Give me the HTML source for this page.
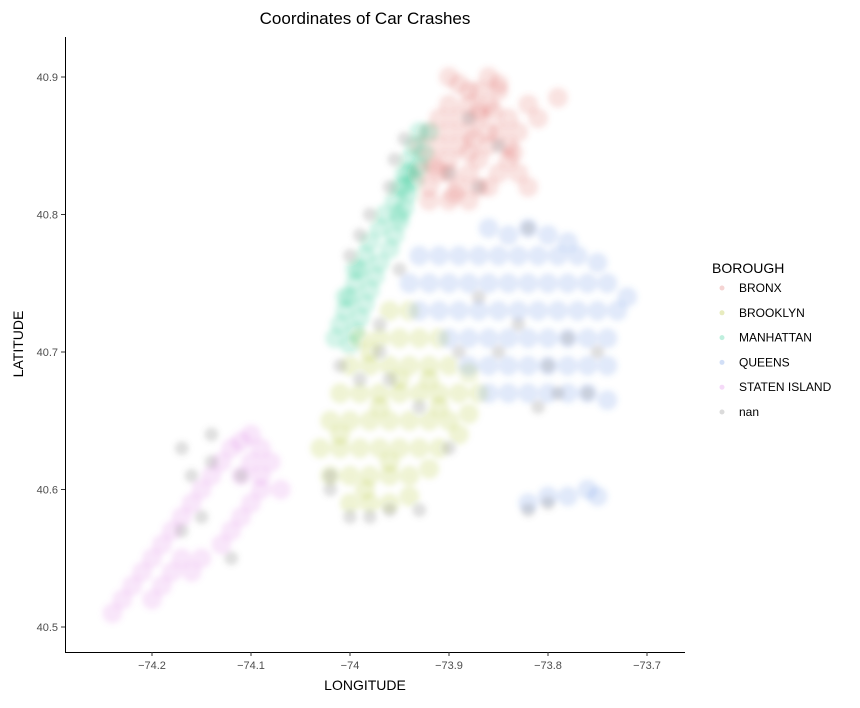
<!DOCTYPE html>
<html><head><meta charset="utf-8"><style>
body{margin:0;background:#fff;font-family:"Liberation Sans","DejaVu Sans",sans-serif}
</style></head><body>
<svg id="chart" width="860" height="703" xmlns="http://www.w3.org/2000/svg" font-family="Liberation Sans, DejaVu Sans, sans-serif">
<defs><filter id="bl" x="-10%" y="-10%" width="120%" height="120%"><feGaussianBlur stdDeviation="3"/></filter></defs>
<rect width="860" height="703" fill="#fff"/>
<g id="pts" filter="url(#bl)"></g>
<line x1="65.5" y1="37" x2="65.5" y2="652" stroke="#000" stroke-width="1"/>
<line x1="65" y1="652.5" x2="685" y2="652.5" stroke="#000" stroke-width="1"/>
<g id="axes"></g>
<text x="365" y="24" font-size="17" text-anchor="middle">Coordinates of Car Crashes</text>
<text x="365" y="690" font-size="14" text-anchor="middle">LONGITUDE</text>
<text transform="translate(23,344) rotate(-90)" font-size="14" text-anchor="middle">LATITUDE</text>
<g id="legend">
<text x="712" y="273" font-size="14">BOROUGH</text>
</g>
</svg>
<script>
const categories=["BRONX","BROOKLYN","MANHATTAN","QUEENS","STATEN ISLAND","nan"];
const colors=["#D9534F","#A3B500","#00BF7D","#4A7FE0","#D86BE3","#707070"];
const xTicks=[-74.2,-74.1,-74.0,-73.9,-73.8,-73.7];
const xTickLabels=["\u221274.2","\u221274.1","\u221274","\u221273.9","\u221273.8","\u221273.7"];
const yTicks=[40.5,40.6,40.7,40.8,40.9];
const yTickLabels=["40.5","40.6","40.7","40.8","40.9"];
const bronx=[[-73.92,40.82],[-73.91,40.83],[-73.90,40.84],[-73.89,40.85],[-73.88,40.86],[-73.87,40.87],[-73.86,40.88],[-73.85,40.89],[-73.86,40.90],[-73.88,40.89],[-73.90,40.88],[-73.91,40.87],[-73.92,40.86],[-73.93,40.85],[-73.92,40.84],[-73.93,40.83],[-73.92,40.81],[-73.90,40.81],[-73.89,40.82],[-73.88,40.83],[-73.87,40.84],[-73.86,40.85],[-73.85,40.86],[-73.84,40.87],[-73.83,40.86],[-73.84,40.84],[-73.85,40.83],[-73.86,40.82],[-73.87,40.82],[-73.88,40.81],[-73.90,40.86],[-73.89,40.87],[-73.88,40.88],[-73.87,40.89],[-73.89,40.895],[-73.90,40.90],[-73.91,40.85],[-73.90,40.83],[-73.88,40.845],[-73.86,40.86],[-73.84,40.85],[-73.83,40.83],[-73.82,40.82],[-73.85,40.895],[-73.87,40.875],[-73.915,40.835],[-73.895,40.815],[-73.875,40.855],[-73.855,40.875],[-73.835,40.845],[-73.81,40.87],[-73.82,40.88],[-73.79,40.885]];
const manhattan=[[-74.015,40.71],[-74.01,40.72],[-74.005,40.73],[-74.0,40.74],[-73.995,40.75],[-73.99,40.76],[-73.985,40.77],[-73.98,40.78],[-73.97,40.79],[-73.965,40.80],[-73.955,40.81],[-73.95,40.82],[-73.945,40.83],[-73.94,40.84],[-73.935,40.85],[-73.93,40.86],[-74.0,40.705],[-73.995,40.715],[-73.99,40.725],[-73.985,40.735],[-73.98,40.745],[-73.975,40.755],[-73.97,40.765],[-73.96,40.775],[-73.955,40.785],[-73.95,40.795],[-73.945,40.805],[-73.94,40.815],[-73.935,40.825],[-73.93,40.835],[-73.925,40.845],[-73.92,40.86],[-74.005,40.74],[-73.995,40.76],[-73.95,40.80],[-73.945,40.82],[-73.94,40.83]];
const brooklyn=[[-73.96,40.73],[-73.94,40.73],[-73.99,40.71],[-73.97,40.71],[-73.95,40.71],[-73.93,40.71],[-73.91,40.71],[-74.0,40.69],[-73.98,40.69],[-73.96,40.69],[-73.94,40.69],[-73.92,40.69],[-73.90,40.69],[-73.88,40.685],[-74.01,40.67],[-73.99,40.67],[-73.97,40.67],[-73.95,40.67],[-73.93,40.67],[-73.91,40.67],[-73.89,40.67],[-73.87,40.67],[-74.02,40.65],[-74.0,40.65],[-73.98,40.65],[-73.96,40.65],[-73.94,40.65],[-73.92,40.65],[-73.90,40.65],[-73.88,40.655],[-74.03,40.63],[-74.01,40.63],[-73.99,40.63],[-73.97,40.63],[-73.95,40.63],[-73.93,40.63],[-73.91,40.63],[-73.89,40.64],[-74.02,40.61],[-74.0,40.61],[-73.98,40.61],[-73.96,40.61],[-73.94,40.61],[-73.92,40.615],[-74.0,40.59],[-73.98,40.59],[-73.96,40.59],[-73.94,40.595],[-73.98,40.70],[-73.95,40.68],[-73.92,40.68],[-73.97,40.66],[-73.91,40.66],[-74.01,40.64],[-73.96,40.62],[-73.985,40.60]];
const queens=[[-73.86,40.79],[-73.84,40.785],[-73.82,40.79],[-73.80,40.785],[-73.78,40.78],[-73.93,40.77],[-73.91,40.77],[-73.89,40.77],[-73.87,40.77],[-73.85,40.77],[-73.83,40.77],[-73.81,40.77],[-73.79,40.77],[-73.77,40.77],[-73.75,40.765],[-73.94,40.75],[-73.92,40.75],[-73.90,40.75],[-73.88,40.75],[-73.86,40.75],[-73.84,40.75],[-73.82,40.75],[-73.80,40.75],[-73.78,40.75],[-73.76,40.75],[-73.74,40.75],[-73.72,40.74],[-73.93,40.73],[-73.91,40.73],[-73.89,40.73],[-73.87,40.73],[-73.85,40.73],[-73.83,40.73],[-73.81,40.73],[-73.79,40.73],[-73.77,40.73],[-73.75,40.73],[-73.73,40.73],[-73.90,40.71],[-73.88,40.71],[-73.86,40.71],[-73.84,40.71],[-73.82,40.71],[-73.80,40.71],[-73.78,40.71],[-73.76,40.71],[-73.74,40.71],[-73.88,40.69],[-73.86,40.69],[-73.84,40.69],[-73.82,40.69],[-73.80,40.69],[-73.78,40.69],[-73.76,40.69],[-73.74,40.69],[-73.86,40.67],[-73.84,40.67],[-73.82,40.67],[-73.80,40.67],[-73.78,40.67],[-73.76,40.67],[-73.74,40.665],[-73.82,40.59],[-73.80,40.595],[-73.78,40.595],[-73.76,40.60],[-73.75,40.595]];
const staten=[[-74.24,40.51],[-74.23,40.52],[-74.22,40.53],[-74.21,40.54],[-74.20,40.55],[-74.19,40.56],[-74.18,40.57],[-74.17,40.58],[-74.16,40.59],[-74.15,40.60],[-74.14,40.61],[-74.13,40.62],[-74.12,40.63],[-74.10,40.64],[-74.09,40.63],[-74.08,40.62],[-74.07,40.60],[-74.09,40.60],[-74.10,40.59],[-74.11,40.58],[-74.12,40.57],[-74.13,40.56],[-74.15,40.55],[-74.16,40.54],[-74.17,40.55],[-74.18,40.54],[-74.19,40.53],[-74.20,40.52],[-74.11,40.61],[-74.10,40.62],[-74.11,40.635],[-74.09,40.61]];
const nanPts=[[-74.0,40.77],[-73.99,40.785],[-73.98,40.80],[-73.96,40.82],[-73.955,40.84],[-73.945,40.855],[-74.01,40.69],[-73.99,40.68],[-74.02,40.61],[-74.0,40.58],[-73.98,40.58],[-73.96,40.585],[-73.93,40.585],[-73.97,40.70],[-73.96,40.68],[-73.93,40.66],[-73.90,40.63],[-73.87,40.74],[-73.85,40.70],[-73.83,40.72],[-73.81,40.66],[-73.80,40.69],[-73.78,40.71],[-73.76,40.67],[-73.82,40.79],[-73.87,40.82],[-73.88,40.87],[-73.85,40.85],[-73.90,40.83],[-74.17,40.63],[-74.16,40.61],[-74.15,40.58],[-74.17,40.57],[-74.14,40.62],[-74.11,40.61],[-74.14,40.64],[-74.12,40.55],[-73.80,40.59],[-73.82,40.585],[-73.95,40.76],[-73.97,40.72],[-74.02,40.60],[-73.89,40.70],[-73.79,40.67],[-73.75,40.70]];
const series=[bronx,brooklyn,manhattan,queens,staten,nanPts];
const xS=v=>350+(v+74)*990;
const yS=v=>77+(40.9-v)*1375;
const NS="http://www.w3.org/2000/svg";
const pg=document.getElementById('pts');
series.forEach((s,i)=>{
  s.forEach(p=>{
    const c=document.createElementNS(NS,'circle');
    
    
    c.setAttribute('cx',xS(p[0]));c.setAttribute('cy',yS(p[1]));
    c.setAttribute('r',i===5?7:10);
    c.setAttribute('fill',colors[i]);
    c.setAttribute('fill-opacity',i===5?0.22:0.17);
    pg.appendChild(c);
  });
});
const ax=document.getElementById('axes');
xTicks.forEach((v,i)=>{
  const l=document.createElementNS(NS,'line');
  
  
  l.setAttribute('x1',xS(v));l.setAttribute('x2',xS(v));l.setAttribute('y1',652);l.setAttribute('y2',656);l.setAttribute('stroke','#333');
  ax.appendChild(l);
  const t=document.createElementNS(NS,'text');
  
  
  t.setAttribute('x',xS(v));t.setAttribute('y',669);t.setAttribute('font-size','11');t.setAttribute('fill','#4d4d4d');t.setAttribute('text-anchor','middle');
  t.textContent=xTickLabels[i];ax.appendChild(t);
});
yTicks.forEach((v,i)=>{
  const l=document.createElementNS(NS,'line');
  
  
  l.setAttribute('x1',61);l.setAttribute('x2',65);l.setAttribute('y1',yS(v));l.setAttribute('y2',yS(v));l.setAttribute('stroke','#333');
  ax.appendChild(l);
  const t=document.createElementNS(NS,'text');
  
  
  t.setAttribute('x',58);t.setAttribute('y',yS(v)+4);t.setAttribute('font-size','11');t.setAttribute('fill','#4d4d4d');t.setAttribute('text-anchor','end');
  t.textContent=yTickLabels[i];ax.appendChild(t);
});
const lg=document.getElementById('legend');
categories.forEach((c,i)=>{
  const y=288+i*24.8;
  const d=document.createElementNS(NS,'circle');
  
  
  d.setAttribute('cx',722);d.setAttribute('cy',y);d.setAttribute('r',2.5);d.setAttribute('fill',colors[i]);d.setAttribute('fill-opacity',0.25);
  lg.appendChild(d);
  const t=document.createElementNS(NS,'text');
  
  
  t.setAttribute('x',739);t.setAttribute('y',y+4);t.setAttribute('font-size','12');
  t.textContent=c;lg.appendChild(t);
});
</script>
</body></html>
